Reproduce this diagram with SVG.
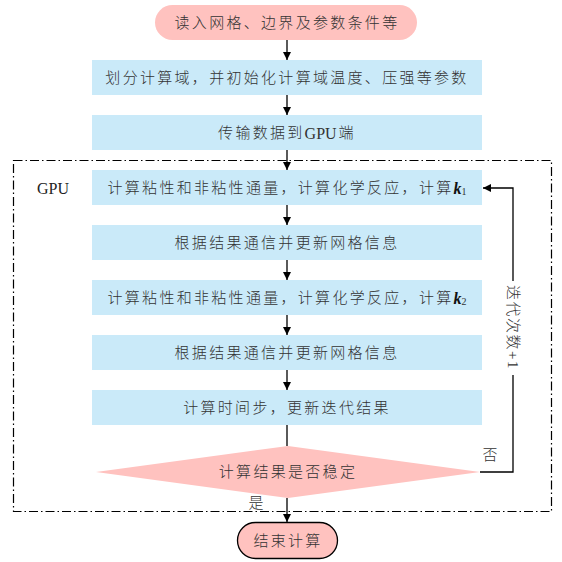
<svg xmlns="http://www.w3.org/2000/svg" width="562" height="562" viewBox="0 0 562 562">
<style>
.t{font-family:"Liberation Serif","Noto Sans CJK SC",serif;font-size:15px;font-weight:300;fill:#333;letter-spacing:2.3px;text-anchor:middle;dominant-baseline:central}
.box{fill:#CAEAF9}
.pink{fill:#FFC2BF}
.ln{stroke:#000;stroke-width:1.3;fill:none}
.k{font-style:italic;font-weight:bold;fill:#111;font-size:16px}
</style>
<defs>
<marker id="ah" viewBox="0 0 10 10" refX="10" refY="5" markerWidth="8" markerHeight="8" markerUnits="userSpaceOnUse" orient="auto"><path d="M0,0 L10,5 L0,10 z" fill="#000"/></marker>
</defs>
<rect x="0" y="0" width="562" height="562" fill="#fff"/>
<g id="frame"><rect x="13.5" y="160.5" width="538" height="351" fill="none" stroke="#000" stroke-width="1.2" stroke-dasharray="9,3,1.5,3"/>
<text x="53" y="188" style="font-family:'Liberation Serif',serif;font-size:16px;fill:#222;text-anchor:middle;dominant-baseline:central">GPU</text></g>
<g id="n1"><rect class="pink" x="155" y="5" width="262" height="35" rx="17.5"/><text class="t" x="287" y="22.5">读入网格、边界及参数条件等</text></g>
<g id="n2"><rect class="box" x="92" y="60" width="390" height="35"/><text class="t" x="287" y="77.5">划分计算域，并初始化计算域温度、压强等参数</text></g>
<g id="n3"><rect class="box" x="92" y="115" width="390" height="35"/><text class="t" x="287" y="132.5">传输数据到<tspan letter-spacing="0" font-size="16">GPU</tspan><tspan dx="2">端</tspan></text></g>
<g id="n4"><rect class="box" x="92" y="170" width="390" height="35"/><text class="t" x="287" y="187.5">计算粘性和非粘性通量，计算化学反应，计算<tspan class="k" letter-spacing="0">k</tspan><tspan font-size="10" dy="3" letter-spacing="0">1</tspan></text></g>
<g id="n5"><rect class="box" x="92" y="225" width="390" height="35"/><text class="t" x="287" y="242.5">根据结果通信并更新网格信息</text></g>
<g id="n6"><rect class="box" x="92" y="280" width="390" height="35"/><text class="t" x="287" y="297.5">计算粘性和非粘性通量，计算化学反应，计算<tspan class="k" letter-spacing="0">k</tspan><tspan font-size="10" dy="3" letter-spacing="0">2</tspan></text></g>
<g id="n7"><rect class="box" x="92" y="335" width="390" height="35"/><text class="t" x="287" y="352.5">根据结果通信并更新网格信息</text></g>
<g id="n8"><rect class="box" x="92" y="390" width="390" height="35"/><text class="t" x="287" y="407.5">计算时间步，更新迭代结果</text></g>
<g id="n9"><polygon class="pink" points="96,472 288,446 480,472 288,498"/><text class="t" x="288" y="472">计算结果是否稳定</text></g>
<g id="n10"><rect class="pink" x="237.5" y="522.5" width="100" height="36" rx="18" stroke="#000" stroke-width="1.3"/><text class="t" x="288" y="540.5">结束计算</text></g>
<g id="connectors">
<line class="ln" x1="287" y1="40" x2="287" y2="60" marker-end="url(#ah)"/>
<line class="ln" x1="287" y1="95" x2="287" y2="115" marker-end="url(#ah)"/>
<line class="ln" x1="287" y1="150" x2="287" y2="170" marker-end="url(#ah)"/>
<line class="ln" x1="287" y1="205" x2="287" y2="225" marker-end="url(#ah)"/>
<line class="ln" x1="287" y1="260" x2="287" y2="280" marker-end="url(#ah)"/>
<line class="ln" x1="287" y1="315" x2="287" y2="335" marker-end="url(#ah)"/>
<line class="ln" x1="287" y1="370" x2="287" y2="390" marker-end="url(#ah)"/>
<line class="ln" x1="287" y1="425" x2="287" y2="446"/>
<line class="ln" x1="287" y1="498" x2="287" y2="522" marker-end="url(#ah)"/>
<polyline class="ln" points="480,472 513,472 513,375"/>
<polyline class="ln" points="513,281 513,188 483,188" marker-end="url(#ah)"/>
<text class="t" x="490" y="455" style="letter-spacing:0">否</text>
<text class="t" x="256" y="503" style="letter-spacing:0">是</text>
<text class="t" transform="translate(513,327.5) rotate(90)" x="0" y="0" style="letter-spacing:1.5px">迭代次数+1</text>
</g>
</svg>
